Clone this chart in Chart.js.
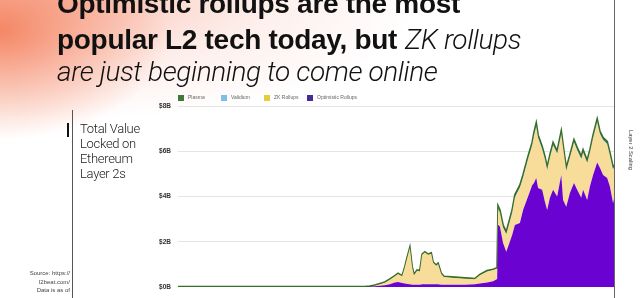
<!DOCTYPE html>
<html><head><meta charset="utf-8">
<script src="https://cdn.jsdelivr.net/npm/chart.js@4.4.1/dist/chart.umd.min.js"></script>
<style>
html,body{margin:0;padding:0;}
body{width:640px;height:298px;overflow:hidden;position:relative;background:#fff;font-family:"Liberation Sans",Arial,sans-serif;}
#bg{position:absolute;left:0;top:0;width:640px;height:298px;background:
 radial-gradient(ellipse 170px 110px at 0px 30px, rgba(244,130,95,0.95) 0%, rgba(246,150,120,0.55) 50%, rgba(255,255,255,0) 100%),
 radial-gradient(ellipse 360px 120px at 60px 0px, rgba(248,175,155,0.75) 0%, rgba(250,205,195,0.35) 55%, rgba(255,255,255,0) 100%);}
#c{position:absolute;left:0;top:0;}
.t{position:absolute;left:57px;font-size:28px;line-height:28px;white-space:nowrap;color:#111;}
.b{font-weight:bold;letter-spacing:-0.3px;}
.li{font-family:Roboto,sans-serif;font-weight:300;font-style:italic;letter-spacing:-0.4px;}
#side{position:absolute;left:80px;top:121px;font-family:Roboto,sans-serif;font-weight:300;font-size:13px;line-height:15px;color:#1a1a1a;letter-spacing:-0.3px;}
#src{position:absolute;right:570px;top:269px;font-size:6px;line-height:8.5px;color:#444;text-align:right;white-space:nowrap;}
#vl{position:absolute;left:72px;top:110px;width:1px;height:188px;background:#555;}
#bar{position:absolute;left:67px;top:123px;width:2px;height:14px;background:#111;}
#rl{position:absolute;left:614px;top:0;width:1px;height:298px;background:#666;}
#rot{position:absolute;left:631px;top:150px;font-size:5.8px;color:#333;white-space:nowrap;transform:translate(-50%,-50%) rotate(90deg);}
#legend{position:absolute;left:178px;top:94px;height:7px;white-space:nowrap;font-size:5px;color:#666;}
#legend .it{display:inline-block;width:43px;height:7px;position:relative;vertical-align:top;}
#legend .sq{position:absolute;left:0;top:0.5px;width:6px;height:6px;}
#legend .tx{position:absolute;left:10px;top:0;line-height:7px;}
</style></head>
<body>
<div id="bg"></div>
<canvas id="c" width="640" height="298"></canvas>
<div class="t b" style="top:-10px">Optimistic rollups are the most</div>
<div class="t" style="top:26px"><span class="b">popular L2 tech today, but</span> <span class="li">ZK rollups</span></div>
<div class="t li" style="top:58px">are just beginning to come online</div>
<div id="bar"></div>
<div id="vl"></div>
<div id="rl"></div>
<div id="side">Total Value<br>Locked on<br>Ethereum<br>Layer 2s</div>
<div id="src">Source: https://<br>l2beat.com/<br>Data is as of</div>
<div id="rot">Layer 2 Scaling</div>
<div id="legend"></div>
<script>
// x positions (day index from start of series)
const days = [0,48,158,268,356,411,
422,433,444,455,466,477,484,493,499,504,510,515,519,526,532,537,543,550,557,561,568,572,579,585,609,631,653,664,680,693,702,
704,708,715,722,726,735,741,752,759,770,779,783,788,792,801,807,812,818,825,834,843,847,854,862,871,878,887,891,900,906,913,922,928,935,944,950,957,959];

// TVL in $B per technology
const optimisticRollups = [0,0,0,0,0,0,
0.01,0.03,0.05,0.08,0.12,0.2,0.22,0.18,0.15,0.13,0.12,0.1,0.1,0.1,0.1,0.12,0.12,0.12,0.12,0.12,0.12,0.12,0.1,0.1,0.1,0.1,0.12,0.15,0.2,0.25,0.35,
2.74,2.67,1.94,1.56,1.78,2.3,2.74,2.83,3.4,4.0,4.5,4.6,4.82,4.38,4.3,3.77,3.4,3.94,4.3,4.0,4.95,3.85,3.55,4.15,4.6,4.3,3.94,4.3,3.85,4.44,4.95,5.5,5.27,4.95,4.82,4.44,3.7,3.9];

const zkRollups = [0,0,0,0,0,0,
0,0.02,0.07,0.11,0.2,0.27,0.35,0.29,0.72,1.14,1.6,0.77,0.42,0.62,0.59,1.3,1.4,1.3,1.35,0.95,0.82,0.9,0.47,0.34,0.3,0.27,0.22,0.37,0.49,0.5,0.47,
0.7,0.59,0.66,0.75,0.82,0.96,1.19,1.53,1.41,1.63,1.73,2.06,2.24,2.18,1.76,1.86,1.76,1.76,1.93,1.86,1.78,2.29,1.58,1.55,1.76,1.71,1.69,1.62,1.61,1.48,1.61,1.76,1.46,1.51,1.47,1.35,1.46,1.36];

const validium = [0,0,0,0,0,0,
0,0,0,0,0,0,0,0,0,0,0,0,0,0,0,0,0,0,0,0,0,0,0,0,0,0,0,0,0,0,0,
0.04,0.04,0.03,0.03,0.03,0.04,0.04,0.04,0.05,0.05,0.05,0.06,0.06,0.05,0.05,0.04,0.04,0.04,0.05,0.05,0.05,0.04,0.04,0.04,0.05,0.05,0.04,0.04,0.04,0.04,0.05,0.05,0.05,0.04,0.04,0.04,0.04,0.04];

const plasma = [0.02,0.02,0.02,0.02,0.02,0.02,
0.03,0.03,0.03,0.03,0.03,0.03,0.03,0.03,0.03,0.03,0.03,0.03,0.03,0.03,0.03,0.03,0.03,0.03,0.03,0.03,0.03,0.03,0.03,0.03,0.03,0.03,0.03,0.03,0.03,0.03,0.03,
0.1,0.1,0.1,0.1,0.1,0.1,0.1,0.1,0.1,0.1,0.11,0.11,0.12,0.11,0.1,0.1,0.1,0.1,0.1,0.1,0.11,0.1,0.1,0.1,0.1,0.1,0.1,0.1,0.1,0.1,0.1,0.11,0.1,0.1,0.1,0.1,0.1,0.1];

const yTicks = [0,2,4,6,8];
const seriesNames = ['Optimistic Rollups','ZK Rollups','Validium','Plasma'];

const pts = arr => days.map((d,i)=>({x:d,y:arr[i]}));

const chart = new Chart(document.getElementById('c'), {
  type:'line',
  data:{datasets:[
    {label:seriesNames[0], data:pts(optimisticRollups), backgroundColor:'#6a02d2', borderWidth:0, fill:'origin', legendColor:'#452b98'},
    {label:seriesNames[1], data:pts(zkRollups), backgroundColor:'#f8dc9a', borderWidth:0, fill:'-1', legendColor:'#e6cb3c'},
    {label:seriesNames[2], data:pts(validium), backgroundColor:'#8ec9ee', borderWidth:0, fill:'-1', legendColor:'#7fbfe6'},
    {label:seriesNames[3], data:pts(plasma), backgroundColor:'#4b8a3b', borderColor:'#376c2b', borderWidth:1.8, fill:'-1', legendColor:'#3e7b36'}
  ]},
  options:{
    responsive:false, animation:false, events:[],
    layout:{padding:{left:140,right:26,top:106,bottom:11}},
    plugins:{legend:{display:false}, tooltip:{enabled:false}},
    elements:{point:{radius:0}, line:{tension:0}},
    scales:{
      x:{type:'linear', display:false, min:days[0], max:days[days.length-1]},
      y:{stacked:true, min:0, max:8, z:1,
         afterBuildTicks:s=>{s.ticks=yTicks.map(v=>({value:v}));},
         afterFit:s=>{s.width=38;},
         ticks:{callback:v=>'$'+v+'B', font:{family:'Liberation Sans', size:6.5, weight:'bold'}, color:'#333', padding:7},
         grid:{color:c=>c.tick && c.tick.value===0 ? 'rgba(0,0,0,0)' : 'rgba(205,205,205,0.55)', drawTicks:false, lineWidth:1},
         border:{display:false}}
    }
  }
});

// HTML legend generated from the chart's datasets (top of stack first)
const lg = document.getElementById('legend');
chart.data.datasets.slice().reverse().forEach(ds=>{
  const it=document.createElement('span'); it.className='it';
  const sq=document.createElement('span'); sq.className='sq'; sq.style.background=ds.legendColor;
  const tx=document.createElement('span'); tx.className='tx'; tx.textContent=ds.label;
  it.appendChild(sq); it.appendChild(tx); lg.appendChild(it);
});
</script>
</body></html>
